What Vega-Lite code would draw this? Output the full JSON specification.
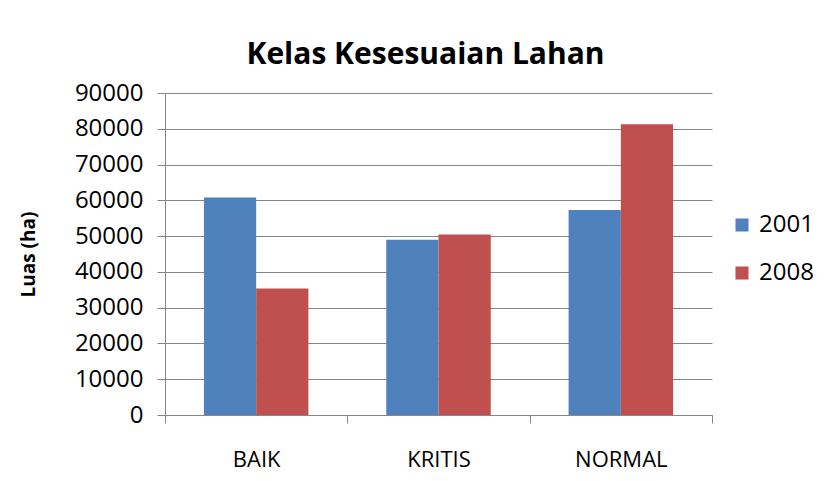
{
  "$schema": "https://vega.github.io/schema/vega-lite/v6.json",
  "autosize": {"type": "none"},
  "padding": {"left": 165, "top": 93, "right": 112, "bottom": 66},
  "width": 547,
  "height": 322,
  "background": "white",
  "title": {
    "text": "Kelas Kesesuaian Lahan",
    "font": "Open Sans",
    "fontSize": 30,
    "fontWeight": "bold",
    "color": "#000000",
    "anchor": "middle",
    "baseline": "alphabetic",
    "offset": 29,
    "dx": -13,
    "dy": 42
  },
  "data": {
    "values": [
      {"kelas": "BAIK", "tahun": "2001", "luas": 60780},
      {"kelas": "BAIK", "tahun": "2008", "luas": 35370},
      {"kelas": "KRITIS", "tahun": "2001", "luas": 48950},
      {"kelas": "KRITIS", "tahun": "2008", "luas": 50450},
      {"kelas": "NORMAL", "tahun": "2001", "luas": 57330},
      {"kelas": "NORMAL", "tahun": "2008", "luas": 81250}
    ]
  },
  "mark": {"type": "bar"},
  "encoding": {
    "x": {
      "field": "kelas",
      "type": "nominal",
      "scale": {"paddingInner": 0, "paddingOuter": 0},
      "axis": {
        "title": null,
        "labelAngle": 0,
        "labelFont": "Open Sans",
        "labelFontSize": 22,
        "labelColor": "#000000",
        "labelPadding": 26,
        "tickSize": 8,
        "tickColor": "#868686",
        "domainColor": "#868686",
        "tickBand": "extent"
      }
    },
    "xOffset": {"field": "tahun", "type": "nominal", "scale": {"paddingInner": 0, "paddingOuter": 0.745}},
    "y": {
      "field": "luas",
      "type": "quantitative",
      "scale": {"domain": [0, 90000], "nice": false},
      "axis": {
        "title": "Luas (ha)",
        "titleFont": "Open Sans",
        "titleFontSize": 19,
        "titleFontWeight": "bold",
        "titleColor": "#000000",
        "titleAngle": -90,
        "titleX": -137,
        "titleY": 161,
        "titleAlign": "center",
        "titleBaseline": "middle",
        "values": [0, 10000, 20000, 30000, 40000, 50000, 60000, 70000, 80000, 90000],
        "format": "d",
        "labelFont": "Open Sans",
        "labelFontSize": 24,
        "labelColor": "#000000",
        "labelPadding": 14,
        "tickSize": 8,
        "tickColor": "#868686",
        "domainColor": "#868686",
        "grid": true,
        "gridColor": "#868686",
        "gridWidth": 1
      }
    },
    "color": {
      "field": "tahun",
      "type": "nominal",
      "scale": {"domain": ["2001", "2008"], "range": ["#4F81BD", "#C0504D"]},
      "legend": {
        "title": null,
        "orient": "none",
        "legendX": 565,
        "legendY": 120,
        "padding": 0,
        "symbolType": "square",
        "symbolSize": 170,
        "symbolStrokeWidth": 0,
        "labelFont": "Open Sans",
        "labelFontSize": 24,
        "labelColor": "#000000",
        "labelOffset": 5,
        "rowPadding": 24
      }
    }
  },
  "config": {
    "view": {"stroke": null}
  }
}
